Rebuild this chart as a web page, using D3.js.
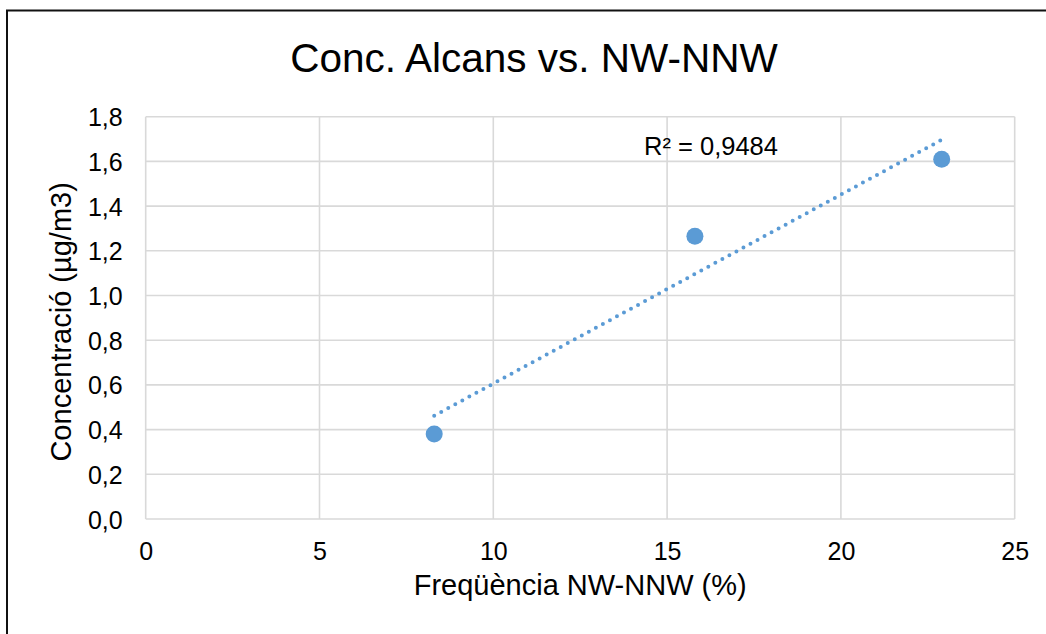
<!DOCTYPE html>
<html>
<head>
<meta charset="utf-8">
<script src="https://cdn.jsdelivr.net/npm/d3@7"></script>
<style>
  html, body { margin: 0; padding: 0; background: #fff; }
  svg { display: block; }
  text { font-family: "Liberation Sans", Arial, sans-serif; fill: #000; }
</style>
</head>
<body>
<svg id="chart" width="1046" height="634"></svg>
<script>
// ---- data ----
const title = "Conc. Alcans vs. NW-NNW";
const xTitle = "Freqüència NW-NNW (%)";
const yTitle = "Concentració (µg/m3)";
const xValues = [8.3, 15.8, 22.9];
const yValues = [0.38, 1.265, 1.61];
const xTicks = [0, 5, 10, 15, 20, 25];
const yTicks = [0, 0.2, 0.4, 0.6, 0.8, 1.0, 1.2, 1.4, 1.6, 1.8];
const r2Label = "R² = 0,9484";

// ---- layout ----
const W = 1046, H = 634;
const plot = { left: 145.7, right: 1014.7, top: 116.7, bottom: 519 };
const svg = d3.select("#chart");
const locale = d3.formatLocale({ decimal: ",", thousands: ".", grouping: [3], currency: ["", "€"] });
const fmtY = locale.format(".1f");

const x = d3.scaleLinear().domain([0, 25]).range([plot.left, plot.right]);
const y = d3.scaleLinear().domain([0, 1.8]).range([plot.bottom, plot.top]);

// outer chart border (extends beyond right/bottom edges)
svg.append("rect")
  .attr("x", 7).attr("y", 10.5)
  .attr("width", W + 40).attr("height", H + 40)
  .attr("fill", "none").attr("stroke", "#111").attr("stroke-width", 2);

// gridlines
const grid = svg.append("g");
grid.selectAll("line.h").data(yTicks).enter().append("line")
  .attr("x1", plot.left).attr("x2", plot.right)
  .attr("y1", d => y(d)).attr("y2", d => y(d))
  .attr("stroke", "#d9d9d9").attr("stroke-width", 1.6);
grid.selectAll("line.v").data(xTicks).enter().append("line")
  .attr("y1", plot.top).attr("y2", plot.bottom)
  .attr("x1", d => x(d)).attr("x2", d => x(d))
  .attr("stroke", "#d9d9d9").attr("stroke-width", 1.6);

// axes (labels only)
const yAxis = d3.axisLeft(y).tickValues(yTicks).tickFormat(fmtY).tickSize(0).tickPadding(23);
const gy = svg.append("g").attr("transform", `translate(${plot.left},0)`).call(yAxis);
gy.select(".domain").remove();
gy.selectAll("text").style("font-size", "25px").attr("font-family", "Liberation Sans, Arial, sans-serif").attr("dy", "0.36em");

const xAxis = d3.axisBottom(x).tickValues(xTicks).tickFormat(d3.format("d")).tickSize(0).tickPadding(23);
const gx = svg.append("g").attr("transform", `translate(0,${plot.bottom})`).call(xAxis);
gx.select(".domain").remove();
gx.selectAll("text").style("font-size", "25px").attr("font-family", "Liberation Sans, Arial, sans-serif");

// trendline (least squares)
const n = xValues.length;
const mx = d3.mean(xValues), my = d3.mean(yValues);
let sxy = 0, sxx = 0;
for (let i = 0; i < n; i++) { sxy += (xValues[i] - mx) * (yValues[i] - my); sxx += (xValues[i] - mx) ** 2; }
const slope = sxy / sxx, intercept = my - slope * mx;
const x0 = d3.min(xValues), x1 = d3.max(xValues);
svg.append("line")
  .attr("x1", x(x0)).attr("y1", y(intercept + slope * x0))
  .attr("x2", x(x1)).attr("y2", y(intercept + slope * x1))
  .attr("stroke", "#5b9bd5").attr("stroke-width", 4)
  .attr("stroke-linecap", "round").attr("stroke-dasharray", "0 8");

// points
svg.selectAll("circle.pt").data(xValues).enter().append("circle")
  .attr("cx", d => x(d)).attr("cy", (d, i) => y(yValues[i]))
  .attr("r", 8.5).attr("fill", "#5b9bd5");

// R² label
svg.append("text").attr("x", 644).attr("y", 155)
  .style("font-size", "25.5px").text(r2Label);

// title
svg.append("text").attr("x", 534).attr("y", 72).attr("text-anchor", "middle")
  .style("font-size", "40.5px").text(title);

// axis titles
svg.append("text").attr("x", (plot.left + plot.right) / 2).attr("y", 595)
  .attr("text-anchor", "middle").style("font-size", "29px").text(xTitle);
svg.append("text")
  .attr("transform", `translate(71,${(plot.top + plot.bottom) / 2 + 4}) rotate(-90)`)
  .attr("text-anchor", "middle").style("font-size", "29px").text(yTitle);
</script>
</body>
</html>
